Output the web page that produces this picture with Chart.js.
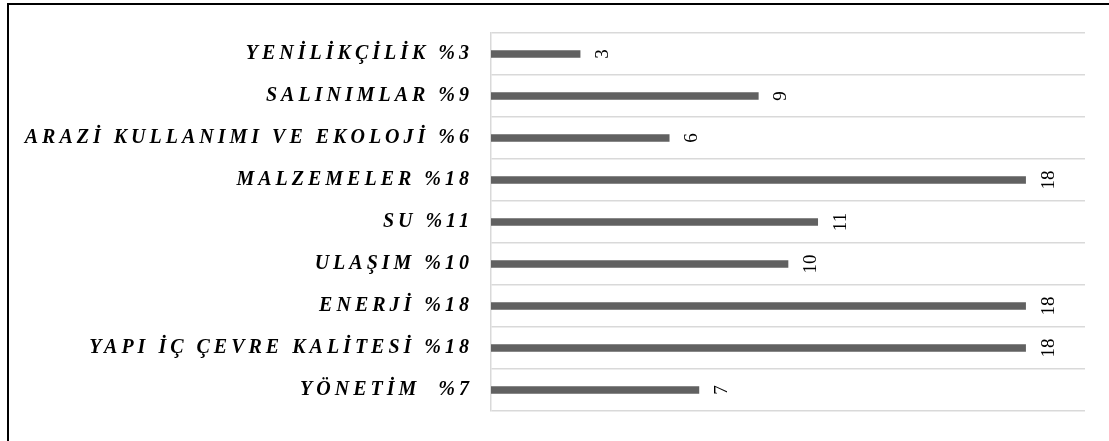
<!DOCTYPE html>
<html>
<head>
<meta charset="utf-8">
<script src="https://cdn.jsdelivr.net/npm/chart.js@4/dist/chart.umd.min.js"></script>
<style>
  html, body { margin: 0; padding: 0; background: #fff; }
  #wrap { position: relative; width: 1109px; height: 441px; }
</style>
</head>
<body>
<div id="wrap"><canvas id="c" width="1109" height="441"></canvas></div>
<script>
// Categories, top to bottom
const categories = [
  'YENİLİKÇİLİK %3',
  'SALINIMLAR %9',
  'ARAZİ KULLANIMI VE EKOLOJİ %6',
  'MALZEMELER %18',
  'SU %11',
  'ULAŞIM %10',
  'ENERJİ %18',
  'YAPI İÇ ÇEVRE KALİTESİ %18',
  'YÖNETİM  %7'
];
const values = [3, 9, 6, 18, 11, 10, 18, 18, 7];
const axisMax = 20;

// Outer frame (left and top edges) plus spaced category labels
const framePlugin = {
  id: 'frame',
  beforeDraw(chart) {
    const ctx = chart.ctx;
    ctx.save();
    ctx.strokeStyle = '#000';
    ctx.lineWidth = 2;
    ctx.beginPath();
    ctx.moveTo(8, 441);
    ctx.lineTo(8, 4);
    ctx.lineTo(1109, 4);
    ctx.stroke();
    ctx.restore();
    ctx.letterSpacing = '4px';
  }
};

// Rotated value labels at the end of each bar
const valueLabels = {
  id: 'valueLabels',
  afterDraw(chart) {
    const ctx = chart.ctx;
    const meta = chart.getDatasetMeta(0);
    ctx.save();
    ctx.letterSpacing = '0px';
    ctx.fillStyle = '#000';
    ctx.font = '19px "Liberation Serif", "Times New Roman", serif';
    ctx.textAlign = 'center';
    ctx.textBaseline = 'middle';
    meta.data.forEach((bar, i) => {
      ctx.save();
      ctx.translate(bar.x + 23, bar.y);
      ctx.rotate(-Math.PI / 2);
      ctx.fillText(String(values[i]), 0, 0);
      ctx.restore();
    });
    ctx.restore();
  }
};

new Chart(document.getElementById('c'), {
  type: 'bar',
  data: {
    labels: categories,
    datasets: [{
      data: values,
      backgroundColor: '#616161',
      barThickness: 7
    }]
  },
  options: {
    indexAxis: 'y',
    responsive: false,
    animation: false,
    layout: { padding: { left: 0, right: 24, top: 33, bottom: 28 } },
    plugins: { legend: { display: false }, tooltip: { enabled: false } },
    scales: {
      x: { display: false, min: 0, max: axisMax },
      y: {
        afterFit(scale) { scale.width = 491; },
        grid: { color: '#d9d9d9', lineWidth: 1.5, drawTicks: false, offset: true },
        border: { color: '#d9d9d9', width: 1.5 },
        ticks: {
          padding: 18,
          color: '#000',
          font: { family: '"Liberation Serif", "Times New Roman", serif', style: 'italic', weight: 'bold', size: 20 }
        }
      }
    }
  },
  plugins: [framePlugin, valueLabels]
});
</script>
</body>
</html>
